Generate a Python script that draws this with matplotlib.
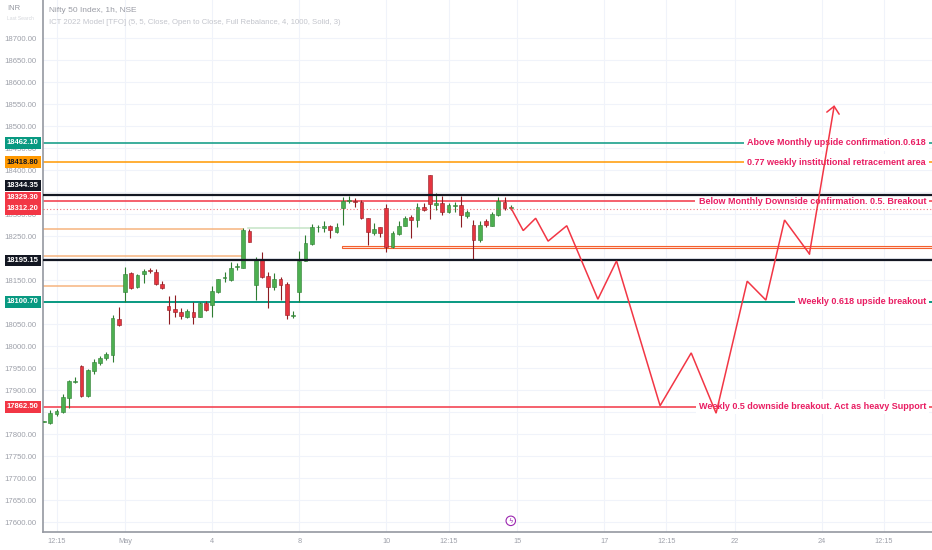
import matplotlib
matplotlib.use('Agg')
import matplotlib.pyplot as plt
import matplotlib.transforms as mtransforms
from matplotlib.patches import Rectangle

plt.rcParams['font.family'] = ['Liberation Sans', 'DejaVu Sans']

# NIFTY 50, 1h candles. bar 0 = 27 Apr 10:15, bar 13 = 2 May 09:15, bar 75 = 12 May 15:15
opens = [17828, 17826, 17846, 17851, 17882, 17920, 17955, 17887, 17944, 17962,
         17973, 17980, 18063, 18124, 18166, 18134, 18164, 18173, 18168, 18141,
         18092, 18085, 18079, 18067, 18077, 18067, 18098, 18095, 18124, 18155,
         18151, 18180, 18179, 18263, 18139, 18198, 18160, 18135, 18153, 18142,
         18070, 18123, 18194, 18232, 18270, 18268, 18274, 18260, 18314, 18330,
         18331, 18329, 18291, 18258, 18270, 18314, 18226, 18255, 18274, 18294,
         18287, 18317, 18389, 18321, 18325, 18306, 18319, 18320, 18297, 18276,
         18241, 18285, 18274, 18298, 18329, 18314]
highs = [17830, 17855, 17857, 17892, 17923, 17930, 17958, 17948, 17971, 17978,
         17988, 18071, 18090, 18181, 18170, 18164, 18176, 18177, 18175, 18148,
         18114, 18117, 18086, 18085, 18100, 18100, 18103, 18138, 18154, 18168,
         18192, 18190, 18268, 18266, 18204, 18215, 18170, 18166, 18158, 18147,
         18080, 18217, 18253, 18277, 18276, 18285, 18276, 18280, 18340, 18342,
         18337, 18333, 18292, 18280, 18271, 18323, 18262, 18285, 18295, 18298,
         18326, 18325, 18390, 18348, 18342, 18326, 18328, 18342, 18310, 18287,
         18285, 18290, 18305, 18340, 18340, 18320]
lows = [17827, 17823, 17841, 17848, 17860, 17916, 17885, 17885, 17937, 17957,
        17969, 17964, 18046, 18101, 18130, 18133, 18143, 18166, 18139, 18130,
        18051, 18067, 18063, 18065, 18050, 18066, 18080, 18067, 18122, 18147,
        18149, 18173, 18177, 18236, 18105, 18156, 18086, 18128, 18105, 18061,
        18064, 18100, 18193, 18231, 18260, 18260, 18246, 18257, 18276, 18326,
        18317, 18290, 18230, 18253, 18248, 18214, 18224, 18253, 18273, 18246,
        18270, 18308, 18289, 18310, 18298, 18303, 18306, 18272, 18291, 18196,
        18238, 18270, 18273, 18297, 18310, 18310]
closes = [17829, 17848, 17853, 17885, 17921, 17922, 17887, 17946, 17964, 17973,
          17982, 18064, 18048, 18164, 18132, 18162, 18171, 18171, 18142, 18133,
          18082, 18078, 18070, 18080, 18067, 18098, 18082, 18126, 18152, 18158,
          18179, 18182, 18264, 18238, 18198, 18158, 18135, 18153, 18139, 18071,
          18072, 18194, 18234, 18270, 18271, 18274, 18264, 18270, 18330, 18332,
          18329, 18292, 18260, 18267, 18257, 18226, 18257, 18274, 18292, 18287,
          18317, 18310, 18323, 18325, 18306, 18320, 18320, 18298, 18305, 18242,
          18276, 18276, 18300, 18330, 18314, 18316]

# date labels on the bar axis
tick_pos = [2, 13, 27, 41, 55, 65, 76, 90, 100, 111, 125, 135]
tick_labels = ['12:15', 'May', '4', '8', '10', '12:15', '15', '17', '12:15', '22', '24', '12:15']

# price scale labels (those hidden under price tags are left out)
yticks = list(range(17600, 18701, 50))
hidden_ticks = [18350, 18200, 18100, 17850]

# drawn horizontal levels
level_prices = [18462.10, 18418.80, 18344.35, 18329.30, 18312.20, 18195.15, 18100.70, 17862.50]
level_notes = ['Above Monthly upside confirmation.0.618',
               '0.77 weekly institutional retracement area',
               '',
               'Below Monthly Downside confirmation. 0.5. Breakout',
               '',
               '',
               'Weekly 0.618 upside breakout',
               'Weekly 0.5 downside breakout. Act as heavy Support']

# ICT indicator lines: price, last bar
ict_prices = [18138, 18204.5, 18266]
ict_end = [13, 32, 32]
ict_green_price = 18269
ict_green_span = [32.8, 42.7]
zone_low, zone_high, zone_start = 18222.6, 18227.1, 47.9

# projected path
path_x = [75, 77, 79, 81, 84, 89, 92, 99, 104, 108, 113, 116, 119, 123, 127]
path_y = [18315, 18263, 18291, 18239, 18274, 18107, 18194, 17865, 17985, 17848,
          18148, 18105, 18287, 18210, 18548]

# styles
GREEN, GREEN_EDGE = '#4caf50', '#2e7d32'
RED, RED_EDGE = '#e5343f', '#8e1c22'
level_colors = ['#089981', '#ff9800', '#131722', '#f23645', '#f23645', '#131722', '#089981', '#f23645']
level_widths = [1.1, 1.1, 1.6, 1.1, 0.8, 1.6, 1.4, 1.1]
level_z = [2.5, 2.5, 5.5, 2.5, 5.5, 5.5, 2.5, 2.5]
tag_text_colors = ['white', '#131722', 'white', 'white', 'white', 'white', 'white', 'white']
tag_nudge = [0, 0, 21, 9, 0, 0, 0, 0]
NOTE_COLOR = '#e91e63'
LABEL_GRAY = '#9ea1aa'
X_MIN, X_MAX = -0.18, 142.7
Y_MIN, Y_MAX = 17578, 18787

fig = plt.figure(figsize=(9.32, 5.5), dpi=100)
ax = fig.add_axes([43 / 932, 18 / 550, 889 / 932, 532 / 550])
ax.set_xlim(X_MIN, X_MAX)
ax.set_ylim(Y_MIN, Y_MAX)

ax.set_yticks(yticks, ['' if v in hidden_ticks else '%.2f' % v for v in yticks])
ax.set_xticks(tick_pos, tick_labels)
ax.grid(color='#f0f3fa', lw=0.8, zorder=0)
ax.set_axisbelow(True)
ax.tick_params(axis='y', length=0, pad=4.5, labelsize=5.6, labelcolor=LABEL_GRAY)
ax.tick_params(axis='x', length=0, pad=4.5, labelsize=5.3, labelcolor=LABEL_GRAY)
for s in ['top', 'right']:
    ax.spines[s].set_visible(False)
for s in ['left', 'bottom']:
    ax.spines[s].set_color('#9598a1')
    ax.spines[s].set_linewidth(1.2)

mixed = mtransforms.blended_transform_factory(ax.transAxes, ax.transData)

# ICT indicator drawings
for p, e in zip(ict_prices, ict_end):
    ax.plot([X_MIN, e], [p, p], color='#f6b47e', lw=1.1, zorder=2)
ax.plot(ict_green_span, [ict_green_price] * 2, color='#c5e4c6', lw=1.1, zorder=2)
ax.add_patch(Rectangle((zone_start, zone_low), X_MAX - zone_start + 1, zone_high - zone_low,
                       facecolor='#fdebe5', edgecolor='#f4602e', lw=0.8, zorder=2))

# horizontal levels
for p, c, w, z, note in zip(level_prices, level_colors, level_widths, level_z, level_notes):
    ls = (0, (1, 2)) if p == 18312.20 else '-'
    alpha = 0.7 if p == 18312.20 else 1
    ax.axhline(p, color=c, lw=w, ls=ls, alpha=alpha, zorder=z)
    if note:
        ax.text(0.9933, p, note, transform=mixed, ha='right', va='center',
                fontsize=6.5, fontweight='bold', color=NOTE_COLOR, zorder=5,
                bbox=dict(boxstyle='square,pad=0.35', fc='white', ec='none'))

# candles
for i, (o, h, l, c) in enumerate(zip(opens, highs, lows, closes)):
    up = c >= o
    fill, edge = (GREEN, GREEN_EDGE) if up else (RED, RED_EDGE)
    ax.vlines(i, l, h, color=edge, lw=0.8, zorder=3)
    ax.bar(i, max(abs(c - o), 2), bottom=min(o, c), width=0.62,
           color=fill, edgecolor=edge, linewidth=0.4, zorder=4)

# projected path with arrow
ax.plot(path_x[:-1], path_y[:-1], color='#f23645', lw=1.1, zorder=6, solid_joinstyle='miter')
ax.annotate('', xy=(path_x[-1], path_y[-1]), xytext=(path_x[-2], path_y[-2]),
            arrowprops=dict(arrowstyle='->,head_length=0.5,head_width=0.45',
                            color='#f23645', lw=1.1, shrinkA=0, shrinkB=0),
            zorder=6)

# price tags on the scale
for p, n, c, tc in zip(level_prices, tag_nudge, level_colors, tag_text_colors):
    ax.annotate('%.2f' % p, xy=(0, p + n), xycoords=mixed, xytext=(-3, 0),
                textcoords='offset points', ha='right', va='center',
                fontsize=5.5, fontweight='bold', color=tc, zorder=10,
                annotation_clip=False,
                bbox=dict(boxstyle='square,pad=0.3', fc=c, ec='none'))

# event marker near the time scale
ev = mtransforms.blended_transform_factory(ax.transData, ax.transAxes)
ax.text(75, 0.021, 'ϟ', transform=ev, ha='center', va='center', fontsize=5,
        color='#9c27b0', family=['DejaVu Sans'], zorder=7,
        bbox=dict(boxstyle='circle,pad=0.25', fc='white', ec='#9c27b0', lw=0.8))

# header texts
fig.text(7 / 932, 1 - 9 / 550, 'INR', fontsize=5.5, color='#9598a1', ha='left', va='center')
fig.text(7 / 932, 1 - 18 / 550, 'Last Search', fontsize=3.6, color='#d5d7dc', ha='left', va='center')
fig.text(49 / 932, 1 - 11 / 550, 'Nifty 50 Index, 1h, NSE', fontsize=6, color='#9a9ca5', va='center')
fig.text(49 / 932, 1 - 23 / 550,
         'ICT 2022 Model [TFO] (5, 5, Close, Open to Close, Full Rebalance, 4, 1000, Solid, 3)',
         fontsize=5.6, color='#c3c5cc', va='center')

fig.savefig('out.png', dpi=100)
